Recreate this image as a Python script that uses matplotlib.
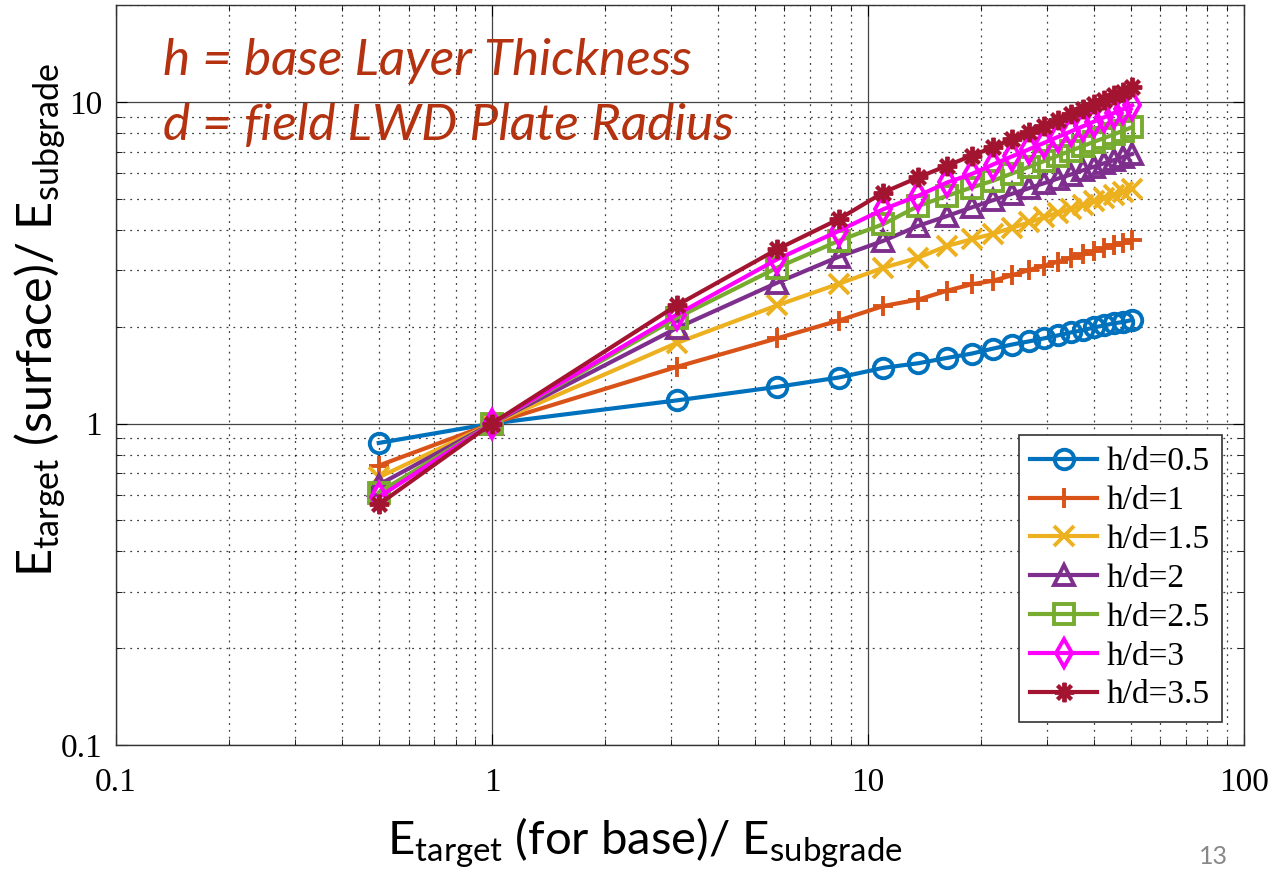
import matplotlib.pyplot as plt
from matplotlib.ticker import LogLocator, FixedLocator, NullFormatter

plt.rcParams['mathtext.fontset'] = 'custom'
plt.rcParams['mathtext.rm'] = 'Lato'
plt.rcParams['mathtext.it'] = 'Lato:italic'

# E_base / E_subgrade
x = [0.5, 1, 3.1, 5.73, 8.36, 10.99, 13.62, 16.25, 18.88, 21.51, 24.14,
     26.77, 29.4, 32.03, 34.66, 37.29, 39.92, 42.55, 45.18, 47.81, 50.44]

hd_05 = [0.87, 1, 1.18, 1.30, 1.39, 1.49, 1.54, 1.60, 1.65, 1.71, 1.76,
         1.80, 1.84, 1.88, 1.92, 1.95, 1.99, 2.02, 2.05, 2.07, 2.10]
hd_10 = [0.74, 1, 1.50, 1.84, 2.09, 2.32, 2.43, 2.59, 2.71, 2.78, 2.89,
         3.00, 3.09, 3.19, 3.27, 3.36, 3.43, 3.51, 3.58, 3.65, 3.72]
hd_15 = [0.68, 1, 1.78, 2.33, 2.72, 3.05, 3.28, 3.57, 3.74, 3.89, 4.06,
         4.22, 4.38, 4.52, 4.65, 4.78, 4.91, 5.03, 5.14, 5.25, 5.36]
hd_20 = [0.645, 1, 1.98, 2.74, 3.30, 3.70, 4.12, 4.42, 4.70, 4.95, 5.18,
         5.39, 5.59, 5.78, 5.95, 6.13, 6.29, 6.45, 6.60, 6.75, 6.89]
hd_25 = [0.61, 1, 2.13, 3.05, 3.70, 4.17, 4.75, 5.11, 5.42, 5.69, 5.99,
         6.28, 6.55, 6.81, 7.06, 7.29, 7.52, 7.73, 7.94, 8.15, 8.35]
hd_30 = [0.59, 1, 2.18, 3.24, 3.97, 4.64, 5.11, 5.62, 5.97, 6.39, 6.77,
         7.12, 7.46, 7.79, 8.10, 8.40, 8.69, 8.97, 9.25, 9.51, 9.77]
hd_35 = [0.56, 1, 2.33, 3.48, 4.32, 5.23, 5.83, 6.34, 6.81, 7.23, 7.66,
         8.07, 8.45, 8.82, 9.18, 9.52, 9.85, 10.17, 10.48, 10.78, 11.1]

series = [hd_05, hd_10, hd_15, hd_20, hd_25, hd_30, hd_35]
labels = ['h/d=0.5', 'h/d=1', 'h/d=1.5', 'h/d=2', 'h/d=2.5', 'h/d=3', 'h/d=3.5']
colors = ['#0072BD', '#D95319', '#EDB120', '#7E2F8E', '#77AC30', '#FF00FF', '#A2142F']
markers = ['o', '+', 'x', '^', 's', 'd', (8, 2, 0)]

fig = plt.figure(figsize=(12.86, 8.73), dpi=100)
ax = fig.add_axes([0.0902, 0.1466, 0.8770, 0.8474])

for y, lab, c, m in zip(series, labels, colors, markers):
    ax.plot(x, y, color=c, lw=3, marker=m, markersize=14, mew=2.8,
            markerfacecolor='none', label=lab, zorder=3)

ax.set_xscale('log')
ax.set_yscale('log')
ax.set_xlim(0.1, 100)
ax.set_ylim(0.1, 20)

ax.xaxis.set_major_locator(FixedLocator([0.1, 1, 10, 100]))
ax.yaxis.set_major_locator(FixedLocator([0.1, 1, 10]))
ax.xaxis.set_minor_locator(LogLocator(base=10, subs=range(2, 10)))
ax.yaxis.set_minor_locator(LogLocator(base=10, subs=range(2, 10)))
ax.xaxis.set_minor_formatter(NullFormatter())
ax.yaxis.set_minor_formatter(NullFormatter())
ax.set_xticklabels(['0.1', '1', '10', '100'])
ax.set_yticklabels(['0.1', '1', '10'])

ax.grid(which='major', color='#444444', lw=0.9, ls='-')
ax.grid(which='minor', color='black', lw=0.9, ls=(0, (1.5, 4)), alpha=0.75)
ax.tick_params(which='both', direction='in', top=True, right=True,
               labelsize=24)
ax.tick_params(axis='x', pad=16)
ax.tick_params(axis='y', pad=10)
ax.tick_params(which='major', length=8)
ax.tick_params(which='minor', length=4)
for lbl in ax.get_xticklabels() + ax.get_yticklabels():
    lbl.set_family('Liberation Serif')
for s in ax.spines.values():
    s.set_color('#333333')
    s.set_linewidth(1)

ax.set_xlabel(r'$\mathregular{E_{target}}$ (for base)/ $\mathregular{E_{subgrade}}$',
              fontsize=34, family='Lato')
ax.set_ylabel(r'$\mathregular{E_{target}}$ (surface)/ $\mathregular{E_{subgrade}}$',
              fontsize=35, family='Lato')
ax.xaxis.set_label_coords(0.469, -0.095)
ax.yaxis.set_label_coords(-0.043, 0.575)

leg = ax.legend(loc='lower right', bbox_to_anchor=(0.9805, 0.031),
                borderaxespad=0,
                prop={'family': 'Liberation Serif', 'size': 24},
                fancybox=False, edgecolor='#333333', framealpha=1,
                labelspacing=0.25, handlelength=2.0, handletextpad=0.3,
                borderpad=0.35)
leg.get_frame().set_linewidth(1.2)

fig.text(0.127, 0.914, 'h = base Layer Thickness', fontsize=37,
         family='Lato', style='italic', color='#B4320F')
fig.text(0.127, 0.840, 'd = field LWD Plate Radius', fontsize=37,
         family='Lato', style='italic', color='#B4320F')
fig.text(0.955, 0.01, '13', fontsize=18, family='Lato', color='#888888',
         ha='right')

fig.savefig('out.png', dpi=100)
